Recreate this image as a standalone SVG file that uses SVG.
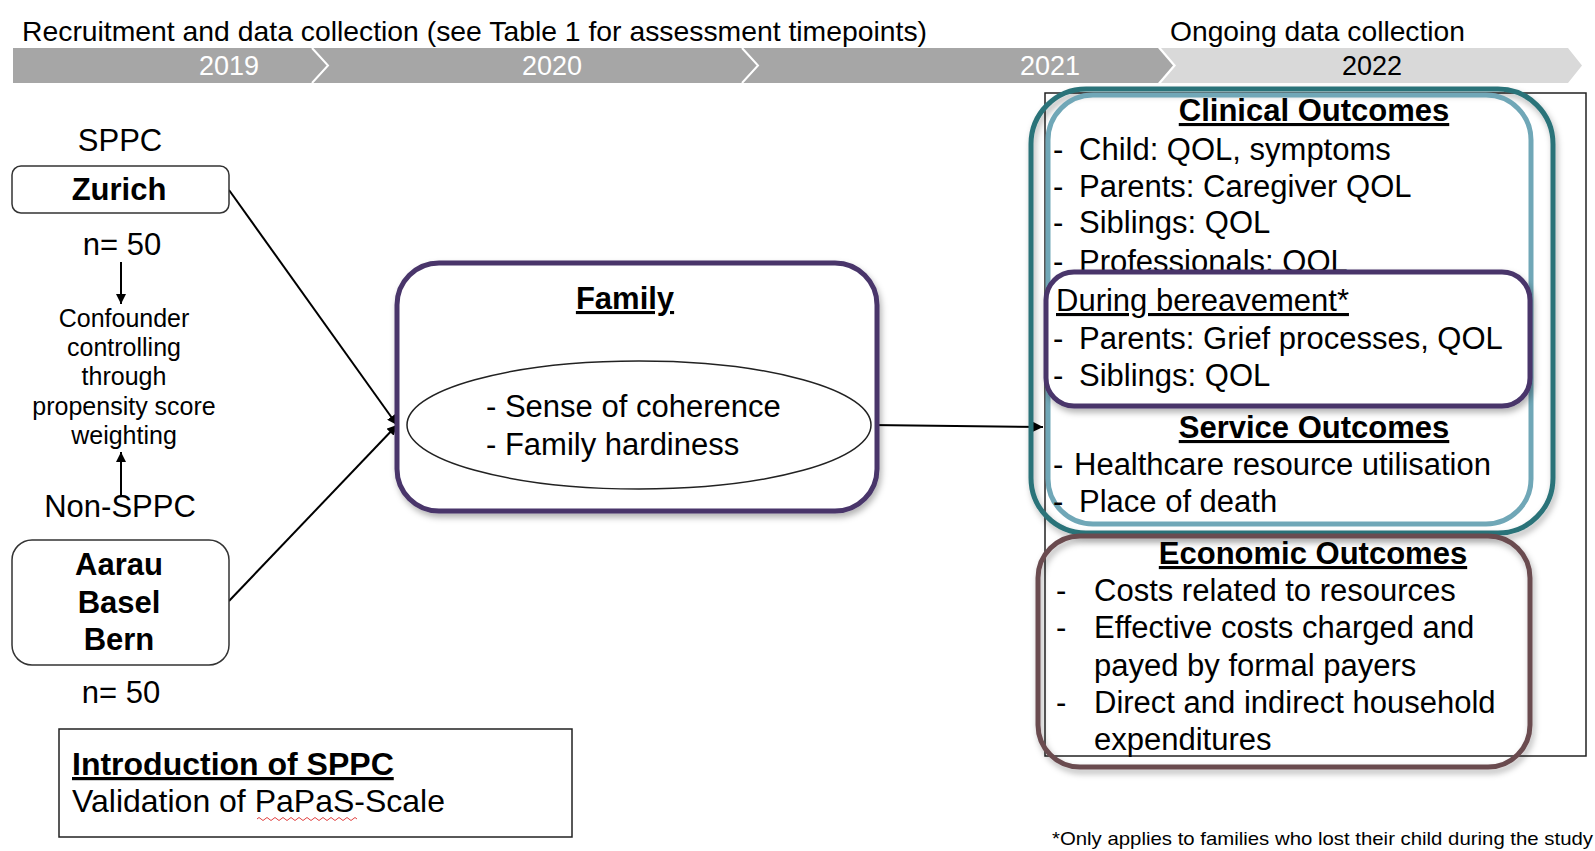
<svg xmlns="http://www.w3.org/2000/svg" width="1595" height="851" viewBox="0 0 1595 851">
<style>
text{font-family:"Liberation Sans",Arial,sans-serif;fill:#000}
.t31{font-size:31px}
.b{font-weight:bold}
.u{text-decoration:underline;text-decoration-thickness:2px}
.b.u{text-decoration-thickness:3px}
.c{text-anchor:middle}
.yr{font-size:27px;text-anchor:middle}
.conf{font-size:25px;text-anchor:middle}
.ln{fill:none;stroke:#000;stroke-width:2}
.box{fill:#fff;stroke:#333;stroke-width:1.5}
</style>
<defs>
<marker id="arr" viewBox="0 0 10 10" refX="10" refY="5" markerWidth="10" markerHeight="10" markerUnits="userSpaceOnUse" orient="auto"><path d="M0,0 L10,5 L0,10 z" fill="#000"/></marker>
<filter id="sh" x="-10%" y="-10%" width="125%" height="130%"><feDropShadow dx="2" dy="4" stdDeviation="3" flood-color="#000" flood-opacity="0.3"/></filter>
</defs>
<rect width="1595" height="851" fill="#fff"/>

<g id="timeline">
<text x="22" y="41" style="font-size:28px" textLength="905" lengthAdjust="spacingAndGlyphs">Recruitment and data collection (see Table 1 for assessment timepoints)</text>
<text x="1170" y="41" style="font-size:28px" textLength="295" lengthAdjust="spacingAndGlyphs">Ongoing data collection</text>
<polygon points="13,48 1158,48 1173,65.5 1158,83 13,83" fill="#a6a6a6"/>
<polygon points="1161,48 1568,48 1582,65.5 1568,83 1161,83 1176,65.5" fill="#d9d9d9"/>
<polyline points="312,48 328,65.5 312,83" fill="none" stroke="#fff" stroke-width="2"/>
<polyline points="742,48 758,65.5 742,83" fill="none" stroke="#fff" stroke-width="2"/>
<text class="yr" x="229" y="75" style="fill:#fff">2019</text>
<text class="yr" x="552" y="75" style="fill:#fff">2020</text>
<text class="yr" x="1050" y="75" style="fill:#fff">2021</text>
<text class="yr" x="1372" y="75">2022</text>
</g>

<g id="connectors">
<line class="ln" x1="229" y1="190" x2="397" y2="425" marker-end="url(#arr)"/>
<line class="ln" x1="229" y1="601" x2="397" y2="425" marker-end="url(#arr)"/>
<line class="ln" x1="871" y1="425" x2="1043" y2="427" marker-end="url(#arr)"/>
<line class="ln" x1="121" y1="262" x2="121" y2="304" marker-end="url(#arr)"/>
<line class="ln" x1="121" y1="497" x2="121" y2="452" marker-end="url(#arr)"/>
</g>

<g id="sppc">
<text class="t31 c" x="120" y="151">SPPC</text>
<rect class="box" x="12" y="166" width="217" height="47" rx="9"/>
<text class="t31 b c" x="119" y="200">Zurich</text>
<text class="t31 c" x="122" y="255">n= 50</text>
</g>

<g id="confounder">
<text class="conf" x="124" y="327">Confounder</text>
<text class="conf" x="124" y="356">controlling</text>
<text class="conf" x="124" y="385">through</text>
<text class="conf" x="124" y="415">propensity score</text>
<text class="conf" x="124" y="444">weighting</text>
</g>

<g id="non-sppc">
<text class="t31 c" x="120" y="517">Non-SPPC</text>
<rect class="box" x="12" y="540" width="217" height="125" rx="20"/>
<text class="t31 b c" x="119" y="575">Aarau</text>
<text class="t31 b c" x="119" y="613">Basel</text>
<text class="t31 b c" x="119" y="650">Bern</text>
<text class="t31 c" x="121" y="703">n= 50</text>
</g>

<g id="introduction">
<rect x="59" y="729" width="513" height="108" fill="#fff" stroke="#222" stroke-width="1.5"/>
<text x="72" y="775" class="b u" style="font-size:32px">Introduction of SPPC</text>
<text x="72" y="812" style="font-size:32px">Validation of PaPaS-Scale</text>
<path d="M257,819 q2,-3 4,0 t4,0 t4,0 t4,0 t4,0 t4,0 t4,0 t4,0 t4,0 t4,0 t4,0 t4,0 t4,0 t4,0 t4,0 t4,0 t4,0 t4,0 t4,0 t4,0 t4,0 t4,0 t4,0 t4,0 t4,0" fill="none" stroke="#e04040" stroke-width="1"/>
</g>

<g id="family">
<rect x="397" y="263" width="480" height="248" rx="42" fill="#fff" stroke="#48356a" stroke-width="5" filter="url(#sh)"/>
<text class="t31 b u c" x="625" y="309">Family</text>
<ellipse cx="639" cy="425" rx="232" ry="64" fill="#fff" stroke="#222" stroke-width="1.5"/>
<text class="t31" x="486" y="417">- Sense of coherence</text>
<text class="t31" x="486" y="455">- Family hardiness</text>
</g>

<g id="outcomes">
<rect x="1045" y="93" width="541" height="663" fill="none" stroke="#222" stroke-width="1.5"/>
<rect x="1031" y="89" width="522" height="444" rx="55" fill="none" stroke="#2a7379" stroke-width="5" filter="url(#sh)"/>
<rect x="1048" y="95" width="483" height="429" rx="45" fill="none" stroke="#70a7b7" stroke-width="5"/>
<text class="t31 b u c" x="1314" y="121">Clinical Outcomes</text>
<text class="t31" x="1053" y="160">-</text><text class="t31" x="1079" y="160">Child: QOL, symptoms</text>
<text class="t31" x="1053" y="197">-</text><text class="t31" x="1079" y="197">Parents: Caregiver QOL</text>
<text class="t31" x="1053" y="233">-</text><text class="t31" x="1079" y="233">Siblings: QOL</text>
<text class="t31" x="1053" y="272">-</text><text class="t31" x="1079" y="272">Professionals: QOL</text>
<text class="t31 b u c" x="1314" y="438">Service Outcomes</text>
<text class="t31" x="1053" y="475">-</text><text class="t31" x="1074" y="475">Healthcare resource utilisation</text>
<text class="t31" x="1053" y="512">-</text><text class="t31" x="1079" y="512">Place of death</text>
</g>

<g id="bereavement">
<rect x="1046" y="272" width="484" height="134" rx="28" fill="#fff" stroke="#48356a" stroke-width="5" filter="url(#sh)"/>
<text class="t31 u" x="1056" y="311">During bereavement*</text>
<text class="t31" x="1053" y="349">-</text><text class="t31" x="1079" y="349">Parents: Grief processes, QOL</text>
<text class="t31" x="1053" y="386">-</text><text class="t31" x="1079" y="386">Siblings: QOL</text>
</g>

<g id="economic">
<rect x="1038" y="536" width="492" height="231" rx="42" fill="none" stroke="#6b4b50" stroke-width="5" filter="url(#sh)"/>
<text class="t31 b u c" x="1313" y="564">Economic Outcomes</text>
<text class="t31" x="1056" y="601">-</text><text class="t31" x="1094" y="601">Costs related to resources</text>
<text class="t31" x="1056" y="638">-</text><text class="t31" x="1094" y="638">Effective costs charged and</text>
<text class="t31" x="1094" y="676">payed by formal payers</text>
<text class="t31" x="1056" y="713">-</text><text class="t31" x="1094" y="713">Direct and indirect household</text>
<text class="t31" x="1094" y="750">expenditures</text>
</g>

<g id="footnote">
<text x="1052" y="845" style="font-size:19px" textLength="541" lengthAdjust="spacingAndGlyphs">*Only applies to families who lost their child during the study</text>
</g>
</svg>
